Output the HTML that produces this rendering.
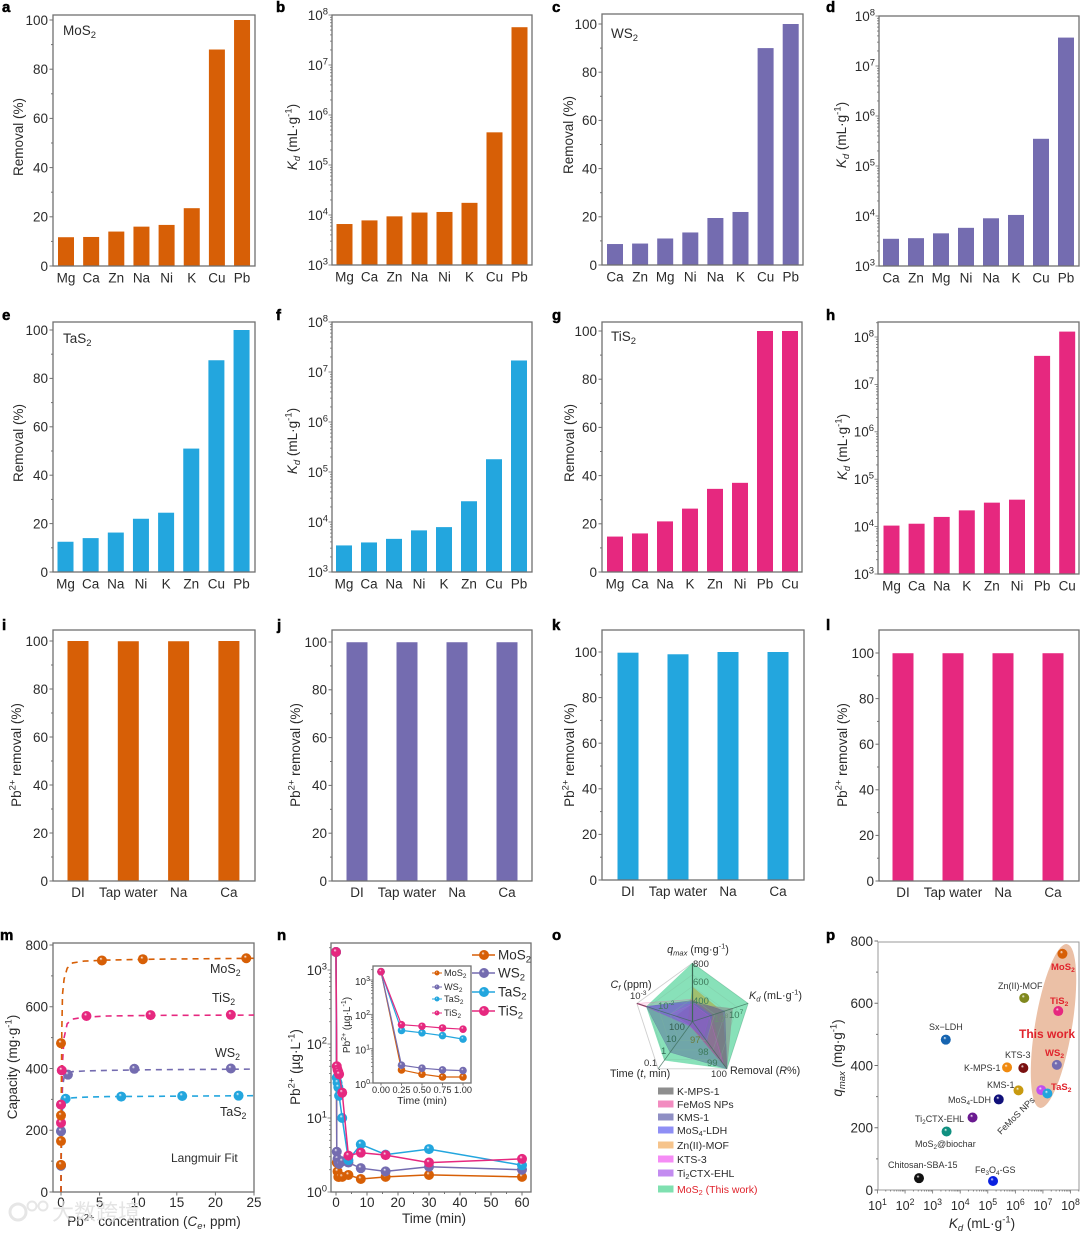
<!DOCTYPE html>
<html lang="en">
<head>
<meta charset="utf-8">
<title>Pb2+ removal performance of metal sulfides</title>
<style>
html,body{margin:0;padding:0;background:#fff;}
body{width:1080px;height:1233px;overflow:hidden;}
svg{display:block;filter:blur(0.35px);}
text{font-family:"Liberation Sans","Noto Sans CJK SC",sans-serif;fill:#2b2b2b;}
</style>
</head>
<body>
<svg id="figure" xmlns="http://www.w3.org/2000/svg" width="1080" height="1233" viewBox="0 0 1080 1233"><defs id="defs"></defs></svg>
<script>
// ---------- DATA: panels a-h ----------
const catsA = ['Mg','Ca','Zn','Na','Ni','K','Cu','Pb'];
const removalA = [11.7,11.8,14,16,16.7,23.5,88,100];
const catsB = ['Mg','Ca','Zn','Na','Ni','K','Cu','Pb'];
const kdB = [6.6e3,7.8e3,9.4e3,1.12e4,1.15e4,1.75e4,4.5e5,5.7e7];
const catsC = ['Ca','Zn','Mg','Ni','Na','K','Cu','Pb'];
const removalC = [8.7,8.9,11,13.5,19.5,22,90,100];
const catsD = ['Ca','Zn','Mg','Ni','Na','K','Cu','Pb'];
const kdD = [3.5e3,3.6e3,4.5e3,5.8e3,9e3,1.05e4,3.5e5,3.7e7];
const catsE = ['Mg','Ca','Na','Ni','K','Zn','Cu','Pb'];
const removalE = [12.5,14,16.3,22,24.5,51,87.5,100];
const catsF = ['Mg','Ca','Na','Ni','K','Zn','Cu','Pb'];
const kdF = [3.4e3,3.9e3,4.6e3,6.8e3,7.9e3,2.6e4,1.8e5,1.7e7];
const catsG = ['Mg','Ca','Na','K','Zn','Ni','Pb','Cu'];
const removalG = [14.7,16,21,26.3,34.5,37,100,100];
const catsH = ['Mg','Ca','Na','K','Zn','Ni','Pb','Cu'];
const kdH = [1.05e4,1.15e4,1.6e4,2.2e4,3.2e4,3.7e4,4e7,1.3e8];
// ---------- DATA: panels i-l ----------
const waterCats = ['DI','Tap water','Na','Ca'];
const waterI = [100,99.9,99.9,100];
const waterJ = [99.9,99.9,99.9,99.9];
const waterK = [99.7,99,100,100];
const waterL = [99.9,99.9,99.9,99.9];
// ---------- DATA: panel m (isotherms) ----------
const isoNames = ['TaS2','WS2','TiS2','MoS2'];
const isoTaC = [0,0,0.6,7.8,15.7,23];
const isoTaQ = [85,197,302,309,311,312];
const isoWC = [0,0,0,0.9,9.5,22];
const isoWQ = [85,197,283,380,399,400];
const isoTiC = [0,0,0.1,3.3,11.6,22];
const isoTiQ = [224,283,394,570,573,574];
const isoMoC = [0,0,0,0,5.3,10.6,24];
const isoMoQ = [88,165,248,482,750,754,757];
const fitC = [0,0.03,0.1,0.2,0.4,0.8,1.5,3,6,12,25];
const fitTa = [0,100,210,270,295,302,305,307,309,310,312];
const fitW = [0,120,260,340,372,385,390,392,394,396,398];
const fitTi = [0,140,300,420,500,545,560,566,570,572,573];
const fitMo = [0,280,520,640,690,725,742,748,751,754,757];
// ---------- DATA: panel n (kinetics) ----------
const times = [0,0.25,0.5,0.75,1,2,4,8,16,30,60];
const kinMo = [1750,2.5,1.9,1.6,1.6,1.6,1.7,1.5,1.6,1.7,1.6];
const kinW = [1750,3.5,2.8,2.5,2.4,2.6,2.5,2.1,1.9,2.2,2.0];
const kinTa = [1750,35,30,26,20,10,2.7,4.4,3.2,3.8,2.3];
const kinTi = [1750,50,45,42,39,22,3.1,3.4,3.15,2.5,2.8];
const insetTimes = [0,0.25,0.5,0.75,1];
const insetMo = [1750,2.4,1.8,1.5,1.5];
const insetW = [1750,3.3,2.7,2.4,2.3];
const insetTa = [1750,34,29,24,19];
const insetTi = [1750,50,45,40,37];
// ---------- DATA: panel o (radar; fraction of each spoke: qmax, Kd, R, t, Cf) ----------
const radarMoS2 = [1,1,1,0.82,0.83];
const radarZn = [0.59,0.54,1,0.08,0.08];
const radarKMPS = [0.3,0.72,1,0.08,0.3];
const radarFeMoS = [0.38,0.35,0.9,0.08,1];
const radarKMS = [0.36,0.58,1,0.65,0.83];
const radarLDH = [0.34,0.35,0.42,0.08,0.83];
const radarKTS = [0.3,0.3,0.9,0.08,0.4];
const radarTi2 = [0.3,0.3,0.32,0.1,0.83];
const radarLegend = ['K-MPS-1','FeMoS NPs','KMS-1','MoS4-LDH','Zn(II)-MOF','KTS-3','Ti2CTX-EHL','MoS2 (This work)'];
// ---------- DATA: panel p (scatter) ----------
const compNames = ['MoS2','Zn(II)-MOF','TiS2','Sx-LDH','KTS-3','K-MPS-1','WS2','KMS-1','MoS4-LDH','FeMoS NPs','TaS2','Ti2CTX-EHL','MoS2@biochar','Chitosan-SBA-15','Fe3O4-GS'];
const compKd = [5.1e7,2.1e6,3.6e7,3e3,1.95e6,5e5,3.2e7,1.3e6,2.5e5,8.7e6,1.45e7,2.8e4,3.2e3,320,1.55e5];
const compQ = [759,617,575,483,392,394,402,320,291,321,310,233,188,38,29];

// ---------- HELPERS ----------
const NS = 'http://www.w3.org/2000/svg';
const svg = document.getElementById('figure');
const defs = document.getElementById('defs');
const ORANGE = '#d75f06', PURPLE = '#746cb0', BLUE = '#23a6de', PINK = '#e6287f';
const AXIS = '#707070';
function lin(d0,d1,r0,r1){ return v => r0 + (v-d0)*(r1-r0)/(d1-d0); }
function logS(e0,e1,r0,r1){ return v => r0 + (Math.log10(v)-e0)*(r1-r0)/(e1-e0); }
function add(parent,tag,attrs){
  const e = document.createElementNS(NS,tag);
  for(const k in attrs) e.setAttribute(k,attrs[k]);
  parent.appendChild(e);
  return e;
}
function label(parent,x,y,segs,o){
  o = o || {};
  const fs = o.size || 13.5;
  const t = add(parent,'text',{x:x,y:y,'font-size':fs,'text-anchor':o.anchor||'start'});
  if(o.rotate!==undefined) t.setAttribute('transform','rotate('+o.rotate+' '+x+' '+y+')');
  if(o.fill) t.style.fill = o.fill;
  if(o.bold) t.setAttribute('font-weight','bold');
  if(typeof segs==='string') segs = [[segs]];
  let off = 0;
  segs.forEach(s=>{
    const kind = s[1]||'';
    let target = 0, size = fs;
    if(kind.indexOf('sup')>=0){ target = -0.4*fs; size = fs*0.7; }
    if(kind.indexOf('sub')>=0){ target = 0.22*fs; size = fs*0.7; }
    const ts = add(t,'tspan',{dy:(target-off).toFixed(2),'font-size':size.toFixed(2)});
    if(kind.indexOf('i')===0) ts.setAttribute('font-style','italic');
    ts.textContent = s[0];
    off = target;
  });
  return t;
}
function tickLine(parent,x1,y1,x2,y2,w){
  return add(parent,'line',{x1:x1,y1:y1,x2:x2,y2:y2,stroke:AXIS,'stroke-width':w||1});
}
function frame(parent,f){
  const r = add(parent,'rect',{x:f.l,y:f.t,width:f.r-f.l,height:f.b-f.t,fill:'none',stroke:AXIS,'stroke-width':1.3});
  
  
  return r;
}
function group(name){
  const g = add(svg,'g',{});
  
  
  return g;
}
function panelLetter(parent,ch,x,y){
  const t = label(parent,x,y,ch,{size:15,bold:true,fill:'#000'});
  t.setAttribute('stroke','#000');
  t.setAttribute('stroke-width','0.5');
  
  
}
function linY(parent,y,f,maj,min,maxV,size){
  for(let v=0;v<=maxV+1e-9;v+=min){
    const isMaj = Math.abs(v/maj-Math.round(v/maj))<1e-9;
    const tl = tickLine(parent,f.l-(isMaj?3.5:2),y(v),f.l,y(v));
    
    
    if(isMaj){
      const t = label(parent,f.l-5,y(v)+4.8,String(v),{anchor:'end',size:size||13.5});
      
      
    }
  }
}
function logY(parent,y,f,e0,e1,topLimit,size,lab){
  for(let e=e0;e<=e1+1;e++){
    for(let m=1;m<10;m++){
      const v = m*Math.pow(10,e);
      const py = y(v);
      if(py<topLimit-0.1 || py>f.b+0.1) continue;
      const tl = tickLine(parent,f.l-(m===1?3.5:2),py,f.l,py,0.8);
      
      
      if(m===1 && e<=e1){
        const t = label(parent,f.l-(lab||4),py+4.8,[['10'],[String(e),'sup']],{anchor:'end',size:size||13.5});
        
        
      }
    }
  }
}
function ballFill(color){
  const id = 'ball'+color.replace('#','');
  if(!document.getElementById(id)){
    const g = add(defs,'radialGradient',{id:id,cx:'0.5',cy:'0.5',r:'0.55',fx:'0.38',fy:'0.3'});
    add(g,'stop',{offset:'0','stop-color':'#fff','stop-opacity':'0.9'});
    add(g,'stop',{offset:'0.28','stop-color':color});
    add(g,'stop',{offset:'1','stop-color':color});
  }
  return 'url(#'+id+')';
}

// ---------- PANELS a-l ----------
const KD_TITLE = [['K','i'],['d','isub'],[' (mL·g'],['-1','sup'],[')']];
const REM_TITLE = 'Removal (%)';
const PB_TITLE = [['Pb'],['2+','sup'],[' removal (%)']];
const barPanels = [
 {id:'a',cats:catsA,vals:removalA,color:ORANGE,lx:2,ly:12,f:{l:53,r:255,t:15,b:266},top:20,first:66,step:25.15,bw:16,title:REM_TITLE,tx:23,ty:137,mat:'MoS',mx:63,my:35},
 {id:'b',cats:catsB,vals:kdB,color:ORANGE,log:true,lx:276,ly:12,f:{l:332,r:532,t:15,b:265},top:15,first:344.5,step:25,bw:16,title:KD_TITLE,tx:297,ty:137},
 {id:'c',cats:catsC,vals:removalC,color:PURPLE,lx:552,ly:12,f:{l:602,r:803,t:14,b:265},top:24,first:615,step:25.1,bw:16,title:REM_TITLE,tx:573,ty:135,mat:'WS',mx:611,my:38},
 {id:'d',cats:catsD,vals:kdD,color:PURPLE,log:true,lx:826,ly:12,f:{l:879,r:1079,t:16,b:266},top:16,first:891,step:25,bw:16,title:KD_TITLE,tx:846,ty:135},
 {id:'e',cats:catsE,vals:removalE,color:BLUE,lx:2,ly:320,f:{l:53,r:255,t:322,b:572},top:330,first:65.5,step:25.15,bw:16,title:REM_TITLE,tx:23,ty:443,mat:'TaS',mx:63,my:343},
 {id:'f',cats:catsF,vals:kdF,color:BLUE,log:true,lx:276,ly:320,f:{l:332,r:532,t:322,b:572},top:322,first:344,step:25,bw:16,title:KD_TITLE,tx:297,ty:441},
 {id:'g',cats:catsG,vals:removalG,color:PINK,lx:552,ly:320,f:{l:602,r:802,t:322,b:572},top:331,first:615,step:25,bw:16,title:REM_TITLE,tx:574,ty:443,mat:'TiS',mx:611,my:341},
 {id:'h',cats:catsH,vals:kdH,color:PINK,log:true,lx:826,ly:320,f:{l:878,r:1079,t:322,b:574},top:337,first:891.5,step:25.1,bw:16,title:KD_TITLE,tx:847,ty:447},
 {id:'i',cats:waterCats,vals:waterI,color:ORANGE,lx:2,ly:630,f:{l:53,r:255,t:630,b:881},top:641,first:78,step:50.3,bw:21,title:PB_TITLE,tx:21,ty:755,wide:true},
 {id:'j',cats:waterCats,vals:waterJ,color:PURPLE,lx:277,ly:630,f:{l:332,r:532,t:630,b:881},top:642,first:357,step:50,bw:21,title:PB_TITLE,tx:300,ty:755,wide:true},
 {id:'k',cats:waterCats,vals:waterK,color:BLUE,lx:552,ly:630,f:{l:602,r:804,t:630,b:880},top:652,first:628,step:50,bw:21,title:PB_TITLE,tx:574,ty:755,wide:true},
 {id:'l',cats:waterCats,vals:waterL,color:PINK,lx:826,ly:630,f:{l:879,r:1079,t:630,b:881},top:653,first:903,step:50,bw:21,title:PB_TITLE,tx:847,ty:755,wide:true}
];
barPanels.forEach(p=>{
  const g = group('panel-'+p.id);
  panelLetter(g,p.id,p.lx,p.ly);
  const f = p.f;
  const y = p.log ? logS(3,8,f.b,p.top) : lin(0,100,f.b,p.top);
  p.vals.forEach((v,i)=>{
    const cx = p.first + i*p.step;
    const yy = y(v);
    const bar = add(g,'rect',{x:cx-p.bw/2,y:yy,width:p.bw,height:f.b-yy,fill:p.color});
    
    
    const t = label(g,cx,f.b+(p.wide?16:16.5),p.cats[i],{anchor:'middle'});
    
    
  });
  frame(g,f);
  if(p.log) logY(g,y,f,3,8,f.t); else linY(g,y,f,20,10,100);
  const yt = label(g,p.tx,p.ty,p.title,{anchor:'middle',rotate:-90});
  
  
  if(p.mat){
    const mt = label(g,p.mx,p.my,[[p.mat],['2','sub']],{});
    
    
  }
});

// ---------- PANEL m ----------
(function(){
  const g = group('panel-m');
  panelLetter(g,'m',0,940);
  const f = {l:53,r:254,t:943,b:1192};
  const x = lin(0,25,61,254);
  const y = lin(0,800,1192,945);
  const series = [
    {n:isoNames[0],c:BLUE,xs:isoTaC,ys:isoTaQ,fit:fitTa},
    {n:isoNames[1],c:PURPLE,xs:isoWC,ys:isoWQ,fit:fitW},
    {n:isoNames[2],c:PINK,xs:isoTiC,ys:isoTiQ,fit:fitTi},
    {n:isoNames[3],c:ORANGE,xs:isoMoC,ys:isoMoQ,fit:fitMo}
  ];
  frame(g,f);
  linY(g,y,f,200,100,800);
  [0,5,10,15,20,25].forEach(v=>{
    const tl = tickLine(g,x(v),f.b,x(v),f.b+3.5);
    
    
    const t = label(g,x(v),1207,String(v),{anchor:'middle'});
    
    
  });
  series.forEach(s=>{
    const pts = fitC.map((c,i)=>x(c).toFixed(1)+','+y(s.fit[i]).toFixed(1)).join(' ');
    const line = add(g,'polyline',{points:pts,fill:'none',stroke:s.c,'stroke-width':1.6,'stroke-dasharray':'6 5'});
    
    
  });
  series.forEach(s=>{
    s.xs.forEach((c,i)=>{
      const dot = add(g,'circle',{cx:x(c),cy:y(s.ys[i]),r:5,fill:ballFill(s.c)});
      
      
    });
  });
  [['MoS',210,973],['TiS',212,1002],['WS',215,1057],['TaS',220,1116]].forEach(a=>{
    const t = label(g,a[1],a[2],[[a[0]],['2','sub']],{size:12.5});
    
    
  });
  const lf = label(g,171,1162,'Langmuir Fit',{size:12});
  
  
  const yt = label(g,17,1067,[['Capacity (mg·g'],['-1','sup'],[')']],{anchor:'middle',rotate:-90});
  
  
  const xt = label(g,154,1226,[['Pb'],['2+','sup'],[' concentration ('],['C','i'],['e','isub'],[', ppm)']],{anchor:'middle'});
  
  
  // watermark
  const wm = add(g,'g',{opacity:0.9});
  
  
  add(wm,'circle',{cx:18,cy:1212,r:8,fill:'none',stroke:'#e4e4e4','stroke-width':3});
  add(wm,'circle',{cx:32,cy:1206,r:4.5,fill:'none',stroke:'#e4e4e4','stroke-width':2});
  add(wm,'circle',{cx:43,cy:1206,r:4.5,fill:'none',stroke:'#e4e4e4','stroke-width':2});
  const wt = label(wm,52,1220,'大数跨境',{size:22,fill:'#dedede'});
  wt.setAttribute('opacity','0.9');
})();

// ---------- PANEL n ----------
(function(){
  const g = group('panel-n');
  panelLetter(g,'n',277,940);
  const f = {l:331,r:531,t:943,b:1192};
  const x = lin(0,60,336,522);
  const y = logS(0,3,1192,970);
  frame(g,f);
  logY(g,y,f,0,3,f.t);
  [0,5,10,15,20,25,30,35,40,45,50,55,60].forEach(v=>{
    const maj = v%10===0;
    const tl = tickLine(g,x(v),f.b,x(v),f.b+(maj?3.5:2));
    
    
    if(maj){
      const t = label(g,x(v),1207,String(v),{anchor:'middle'});
      
      
    }
  });
  const series = [
    {n:'MoS',c:ORANGE,v:kinMo,iv:insetMo},
    {n:'WS',c:PURPLE,v:kinW,iv:insetW},
    {n:'TaS',c:BLUE,v:kinTa,iv:insetTa},
    {n:'TiS',c:PINK,v:kinTi,iv:insetTi}
  ];
  series.forEach(s=>{
    const pts = times.map((t,i)=>x(t).toFixed(1)+','+y(s.v[i]).toFixed(1)).join(' ');
    const line = add(g,'polyline',{points:pts,fill:'none',stroke:s.c,'stroke-width':1.5});
    
    
    times.forEach((t,i)=>{
      const dot = add(g,'circle',{cx:x(t),cy:y(s.v[i]),r:5,fill:ballFill(s.c)});
      
      
    });
  });
  const legY = [955,973,992,1011];
  series.forEach((s,i)=>{
    const l = add(g,'line',{x1:472,x2:495,y1:legY[i],y2:legY[i],stroke:s.c,'stroke-width':1.5});
    
    
    const d = add(g,'circle',{cx:484,cy:legY[i],r:5,fill:ballFill(s.c)});
    
    
    const t = label(g,498,legY[i]+4.5,[[s.n],['2','sub']],{});
    
    
  });
  const yt = label(g,300,1067,[['Pb'],['2+','sup'],[' (µg·L'],['-1','sup'],[')']],{anchor:'middle',rotate:-90});
  
  
  const xt = label(g,434,1223,'Time (min)',{anchor:'middle'});
  
  

  // inset
  const ig = add(g,'g',{});
  
  
  const fi = {l:373,r:471,t:966,b:1083};
  const xi = lin(0,1,381,463);
  const yi = logS(0,3,1083,980);
  frame(ig,fi);
  logY(ig,yi,fi,0,3,fi.t,10,3);
  [0,0.25,0.5,0.75,1].forEach(v=>{
    const tl = tickLine(ig,xi(v),fi.b,xi(v),fi.b+2.5);
    
    
    const t = label(ig,xi(v),1093,v.toFixed(2),{anchor:'middle',size:9.2});
    
    
  });
  series.forEach(s=>{
    const pts = insetTimes.map((t,i)=>xi(t).toFixed(1)+','+yi(s.iv[i]).toFixed(1)).join(' ');
    const line = add(ig,'polyline',{points:pts,fill:'none',stroke:s.c,'stroke-width':1.2});
    
    
    insetTimes.forEach((t,i)=>{
      const dot = add(ig,'circle',{cx:xi(t),cy:yi(s.iv[i]),r:3.8,fill:ballFill(s.c)});
      
      
    });
  });
  const ilY = [973,987,999,1013];
  series.forEach((s,i)=>{
    const l = add(ig,'line',{x1:432,x2:442,y1:ilY[i],y2:ilY[i],stroke:s.c,'stroke-width':1});
    
    
    const d = add(ig,'circle',{cx:437,cy:ilY[i],r:2.5,fill:ballFill(s.c)});
    
    
    const t = label(ig,444,ilY[i]+3.2,[[s.n],['2','sub']],{size:9.2});
    
    
  });
  const iy = label(ig,350,1025,[['Pb'],['2+','sup'],[' (µg·L'],['-1','sup'],[')']],{anchor:'middle',rotate:-90,size:10});
  
  
  const ix = label(ig,422,1104,'Time (min)',{anchor:'middle',size:10.5});
  
  
})();

// ---------- PANEL o ----------
(function(){
  const g = group('panel-o');
  panelLetter(g,'o',552,940);
  const cx = 692.5, cy = 1021.5, R = 58.5;
  function spoke(i,fr){
    const a = -Math.PI/2 + i*2*Math.PI/5;
    return [cx+R*fr*Math.cos(a), cy+R*fr*Math.sin(a)];
  }
  function poly(vals){ return vals.map((v,i)=>spoke(i,v).map(n=>n.toFixed(1)).join(',')).join(' '); }
  const ringOuter = add(g,'polygon',{points:poly([1,1,1,1,1]),fill:'#fff',stroke:'#cfcfcf','stroke-width':0.9});
  
  
  const shapes = [
    {v:radarMoS2,c:'#3fcf8e',o:0.62,n:'mos2'},
    {v:radarZn,c:'#b0a83c',o:0.6,n:'zn-mof'},
    {v:radarKMPS,c:'#8a8a8a',o:0.6,n:'k-mps-1'},
    {v:radarFeMoS,c:'#ee4fa0',o:0.14,n:'femos-nps'},
    {v:radarKMS,c:'#4d4d90',o:0.4,n:'kms-1'},
    {v:radarLDH,c:'#5a5af0',o:0.35,n:'mos4-ldh'},
    {v:radarKTS,c:'#e84fe8',o:0.1,n:'kts-3'},
    {v:radarTi2,c:'#9a4fe0',o:0.2,n:'ti2ctx-ehl'}
  ];
  shapes.forEach(s=>{
    const p = add(g,'polygon',{points:poly(s.v),fill:s.c,'fill-opacity':s.o,stroke:s.c,'stroke-opacity':0.4,'stroke-width':0.5});
    
    
  });
  [0.8,0.6,0.4].forEach(l=>{
    const ring = add(g,'polygon',{points:poly([l,l,l,l,l]),fill:'none',stroke:'#7fb79a','stroke-opacity':0.35,'stroke-width':0.7});
    
    
  });
  const pinkTip = add(g,'line',{x1:spoke(4,1)[0],y1:spoke(4,1)[1],x2:spoke(4,0.83)[0],y2:spoke(4,0.83)[1],stroke:PINK,'stroke-width':1.2});
  
  
  [0,1,2,3,4].forEach(i=>{
    const e = spoke(i,1);
    const l = add(g,'line',{x1:cx,y1:cy,x2:e[0],y2:e[1],stroke:'#3a6a55','stroke-width':i===0?1.2:0.8,'stroke-opacity':i===0?1:0.75});
    
    
  });
  const titles = [
    [698,953,[['q','i'],['max','isub'],[' (mg·g'],['-1','sup'],[')']],'middle'],
    [631,988,[['C','i'],['f','isub'],[' (ppm)']],'middle'],
    [749,999,[['K','i'],['d','isub'],[' (mL·g'],['-1','sup'],[')']],'start'],
    [730,1074,[['Removal ('],['R','i'],['%)']],'start'],
    [610,1077,[['Time ('],['t','i'],[', min)']],'start']
  ];
  titles.forEach(a=>{
    const t = label(g,a[0],a[1],a[2],{size:10.8,anchor:a[3]});
    
    
  });
  const tickTexts = [
    ['800',693,967,'#333'],['600',693,985,'#3d7a5c'],['400',693,1004,'#3d7a5c'],
    ['100',669,1030,'#355f50'],['10',666,1042,'#2f6a54'],['1',661,1054,'#2f6a54'],['0.1',644,1066,'#333'],
    ['97',690,1043,'#6b7a3c'],['98',698,1055,'#3d7a5c'],['99',707,1066,'#3d7a5c'],['100',711,1077,'#333']
  ];
  tickTexts.forEach(a=>{
    const t = label(g,a[1],a[2],a[0],{size:9.5,fill:a[3]});
    
    
  });
  [[630,999,'-3','#333'],[658,1009,'-2','#3d7a5c'],[729,1018,'7','#3d7a5c'],[714,1022,'8','#6f8f78']].forEach(a=>{
    const t = label(g,a[0],a[1],[['10'],[a[2],'sup']],{size:9.5,fill:a[3]});
    
    
  });
  const legY = [1091,1104,1117,1130,1145,1159,1173,1189];
  const legC = ['#8e8e8e','#f28cc0','#8f8fc4','#8f8ff5','#f6c48c','#f58cf5','#c38cf0','#7fe0b0'];
  const legSeg = [
    [['K-MPS-1']],[['FeMoS NPs']],[['KMS-1']],[['MoS'],['4','sub'],['-LDH']],[['Zn(II)-MOF']],[['KTS-3']],
    [['Ti'],['2','sub'],['CTX-EHL']],[['MoS'],['2','sub'],[' (This work)']]
  ];
  radarLegend.forEach((name,i)=>{
    const sw = add(g,'rect',{x:658,y:legY[i]-3.5,width:15.5,height:7,fill:legC[i]});
    
    
    const t = label(g,677,legY[i]+3.8,legSeg[i],{size:10.5,fill:i===7?'#e0232c':'#2b2b2b'});
    
    
  });
})();

// ---------- PANEL p ----------
(function(){
  const g = group('panel-p');
  panelLetter(g,'p',826,940);
  const f = {l:878,r:1079,t:942,b:1190};
  const x = logS(1,8,877.5,1070.5);
  const y = lin(0,800,1190,941);
  const ell = add(g,'ellipse',{cx:1053.5,cy:1026,rx:83,ry:18.5,fill:'#ebc0a6',transform:'rotate(-80.6 1053.5 1026)'});
  
  
  const fr = frame(g,f);
  fr.setAttribute('stroke','#999');
  fr.setAttribute('stroke-width','1');
  linY(g,y,f,200,100,800);
  for(let e=1;e<=8;e++){
    for(let m=1;m<10;m++){
      const v = m*Math.pow(10,e);
      if(x(v)>f.r) break;
      const tl = tickLine(g,x(v),f.b,x(v),f.b+(m===1?3.5:1.5),0.8);
      
      
    }
    const t = label(g,x(Math.pow(10,e)),1210,[['10'],[String(e),'sup']],{anchor:'middle',size:12.5});
    
    
  }
  const colors = ['#d75f06','#80881e','#e6287f','#1664b0','#7a1010','#f08a10','#746cb0','#c89a10','#10107a','#c050f0','#23a6de','#6a1a90','#109080','#111111','#0a20e0'];
  compNames.forEach((n,i)=>{
    const d = add(g,'circle',{cx:x(compKd[i]),cy:y(compQ[i]),r:5,fill:ballFill(colors[i])});
    
    
  });
  const notes = [
    [998,989,[['Zn(II)-MOF']],0,'#333',false],
    [929,1030,[['Sx−LDH']],0,'#333',false],
    [1005,1058,[['KTS-3']],0,'#333',false],
    [964,1071,[['K-MPS-1']],0,'#333',false],
    [987,1088,[['KMS-1']],0,'#333',false],
    [948,1103,[['MoS'],['4','sub'],['-LDH']],0,'#333',false],
    [915,1122,[['Ti'],['2','sub'],['CTX-EHL']],0,'#333',false],
    [915,1147,[['MoS'],['2','sub'],['@biochar']],0,'#333',false],
    [888,1168,[['Chitosan-SBA-15']],0,'#333',false],
    [975,1173,[['Fe'],['3','sub'],['O'],['4','sub'],['-GS']],0,'#333',false],
    [1001,1135,[['FeMoS NPs']],-45,'#333',false],
    [1051,970,[['MoS'],['2','sub']],0,'#e0232c',true],
    [1050,1004,[['TiS'],['2','sub']],0,'#e0232c',true],
    [1045,1056,[['WS'],['2','sub']],0,'#e0232c',true],
    [1051,1090,[['TaS'],['2','sub']],0,'#e0232c',true]
  ];
  notes.forEach(a=>{
    const o = {size:a[5]?9.5:9,fill:a[4],bold:a[5]};
    if(a[3]) o.rotate = a[3];
    const t = label(g,a[0],a[1],a[2],o);
    
    
  });
  const tw = label(g,1019,1038,'This work',{size:12,bold:true,fill:'#e0232c'});
  
  
  const yt = label(g,842,1058,[['q','i'],['max','isub'],[' (mg·g'],['-1','sup'],[')']],{anchor:'middle',rotate:-90});
  
  
  const xt = label(g,982,1228,[['K','i'],['d','isub'],[' (mL·g'],['-1','sup'],[')']],{anchor:'middle'});
  
  
})();
</script>
</body>
</html>
